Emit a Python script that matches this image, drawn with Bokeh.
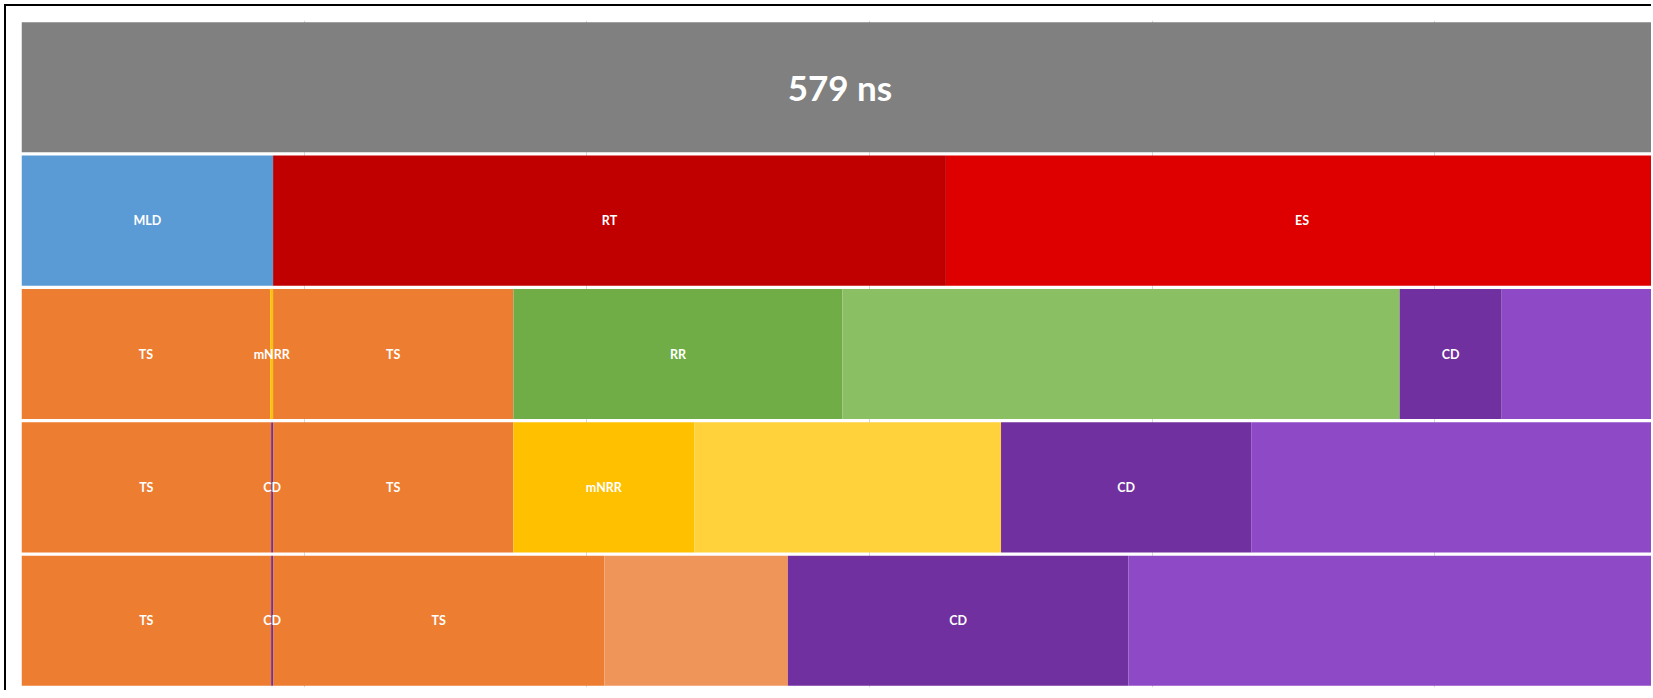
import numpy as np
from bokeh.plotting import figure
from bokeh.models import ColumnDataSource, FactorRange, Range1d, SingleIntervalTicker
from bokeh.core.properties import value
from bokeh.embed import file_html
from bokeh.resources import INLINE

# ---------------- data (ns) ----------------
rows = ["Total", "Memory", "Config A", "Config B", "Config C"]

total_labels = ["579 ns"]
total_values = [579]
total_colors = ["#808080"]

mem_labels = ["MLD", "RT", "ES"]
mem_values = [89, 238, 252]
mem_colors = ["#5B9BD5", "#C00000", "#DE0000"]

a_labels = ["TS", "mNRR", "TS", "RR", "", "CD", ""]
a_values = [88, 1, 85, 116.4, 197.1, 36.1, 55.4]
a_colors = ["#ED7D31", "#FFC000", "#ED7D31", "#70AD47", "#8BBF63", "#7030A0", "#8E4AC6"]

b_labels = ["TS", "CD", "TS", "mNRR", "", "CD", ""]
b_values = [88.3, 0.7, 85, 64, 108.5, 88.5, 144]
b_colors = ["#ED7D31", "#7030A0", "#ED7D31", "#FFC000", "#FFD13B", "#7030A0", "#8E4AC6"]

c_labels = ["TS", "CD", "TS", "", "CD", ""]
c_values = [88.3, 0.7, 117.2, 64.9, 120.5, 187.4]
c_colors = ["#ED7D31", "#7030A0", "#ED7D31", "#F0955A", "#7030A0", "#8E4AC6"]

x_end = 577.3
grid_step = 100

series = [
    (rows[0], total_labels, total_values, total_colors),
    (rows[1], mem_labels, mem_values, mem_colors),
    (rows[2], a_labels, a_values, a_colors),
    (rows[3], b_labels, b_values, b_colors),
    (rows[4], c_labels, c_values, c_colors),
]

bar = dict(y=[], left=[], right=[], color=[])
lab = dict(y=[], x=[], text=[])
big = dict(y=[], x=[], text=[])
for name, labels, vals, cols in series:
    vals = np.asarray(vals, dtype=float)
    right = np.cumsum(vals)
    left = right - vals
    for l, r, c, t in zip(left, right, cols, labels):
        bar["y"].append(name)
        bar["left"].append(l)
        bar["right"].append(r)
        bar["color"].append(c)
        if t:
            tgt = big if name == rows[0] else lab
            tgt["y"].append(name)
            tgt["x"].append((l + r) / 2)
            tgt["text"].append(t)

p = figure(
    width=1647, height=686,
    y_range=FactorRange(factors=list(reversed(rows)), range_padding=0),
    x_range=Range1d(0, x_end),
    output_backend="svg", toolbar_location=None,
    min_border_left=15, min_border_right=0, min_border_top=14, min_border_bottom=5,
)
p.styles = {"border-left": "2px solid #000000", "border-top": "2px solid #000000",
            "margin-left": "4px", "margin-top": "4px"}
p.outline_line_color = None
p.background_fill_color = "white"
p.border_fill_color = "white"
p.xaxis.visible = False
p.yaxis.visible = False
p.ygrid.grid_line_color = None
p.xgrid.ticker = SingleIntervalTicker(interval=grid_step)
p.xgrid.grid_line_color = "#D9D9D9"
p.xgrid.grid_line_width = 1

p.hbar(y="y", left="left", right="right", height=0.975, color="color",
       line_color=None, source=ColumnDataSource(bar))

p.text(x="x", y="y", text="text", source=ColumnDataSource(lab),
       text_color="white", text_font=value("Lato"), text_font_style="bold",
       text_font_size="12.5px", text_align="center", text_baseline="middle")
p.text(x="x", y="y", text="text", source=ColumnDataSource(big),
       text_color="white", text_font=value("Lato"), text_font_style="bold",
       text_font_size="35px", text_align="center", text_baseline="middle")

open("out.html", "w").write(file_html(p, INLINE))
